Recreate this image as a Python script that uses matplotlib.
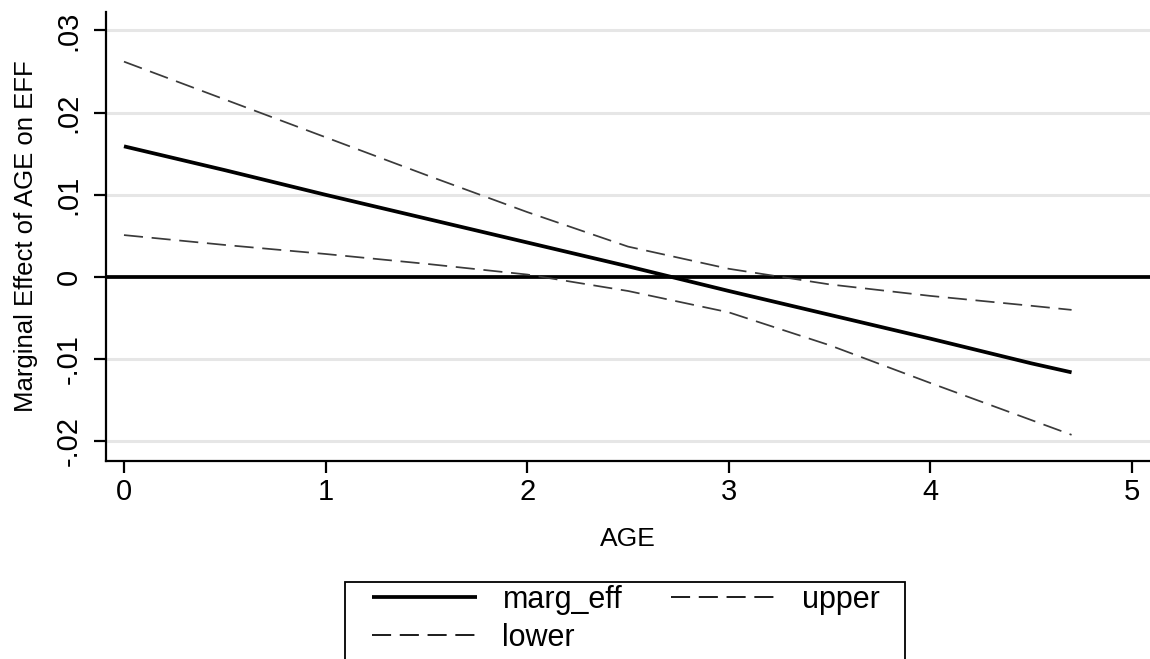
import matplotlib
matplotlib.use('Agg')
import matplotlib.pyplot as plt
from matplotlib.patches import Rectangle

plt.rcParams['font.family'] = ['Liberation Sans', 'DejaVu Sans']

# values
age = [0, 0.5, 1, 1.5, 2, 2.5, 3, 3.5, 4, 4.5, 4.7]
marg_eff = [0.0159, 0.0130, 0.0100, 0.0071, 0.0042, 0.0013, -0.0017, -0.0046, -0.0075, -0.0105, -0.0116]
upper = [0.0262, 0.0216, 0.0170, 0.0124, 0.0079, 0.0037, 0.0010, -0.0009, -0.0023, -0.0035, -0.0040]
lower = [0.0051, 0.0039, 0.0028, 0.0016, 0.0003, -0.0017, -0.0043, -0.0083, -0.0129, -0.0174, -0.0192]

yticks = [-0.02, -0.01, 0, 0.01, 0.02, 0.03]
ylabels = ['-.02', '-.01', '0', '.01', '.02', '.03']
xticks = [0, 1, 2, 3, 4, 5]

fig = plt.figure(figsize=(11.5, 6.59), dpi=100)
ax = fig.add_axes([0.0922, 0.3005, 0.9078, 0.6813])

# grid lines (light grey), zero line thick black
for y in yticks:
    if y != 0:
        ax.axhline(y, color='#e6e6e6', lw=2.2, zorder=0)
ax.axhline(0, color='black', lw=2.7, zorder=1)

l1, = ax.plot(age, marg_eff, color='black', lw=2.7, solid_capstyle='butt', label='marg_eff', zorder=3)
l2, = ax.plot(age, upper, color='#3a3a3a', lw=1.25, dashes=(11, 5), label='upper', zorder=2)
l3, = ax.plot(age, lower, color='#3a3a3a', lw=1.25, dashes=(11, 5), label='lower', zorder=2)

ax.set_xlim(-0.089, 5.089)
ax.set_ylim(-0.02238, 0.03224)

ax.set_xticks(xticks)
ax.set_xticklabels([str(x) for x in xticks])
ax.set_yticks(yticks)
ax.set_yticklabels(ylabels, rotation=90, va='center')

for s in ['top', 'right']:
    ax.spines[s].set_visible(False)
for s in ['left', 'bottom']:
    ax.spines[s].set_linewidth(1.6)
    ax.spines[s].set_color('black')

ax.tick_params(axis='both', direction='out', width=1.6, colors='black', labelsize=21)
ax.tick_params(axis='y', length=9, pad=8)
ax.tick_params(axis='x', length=8.5, pad=4)

ax.set_xlabel('AGE', fontsize=19, labelpad=15)
ax.set_ylabel('Marginal Effect of AGE on EFF', fontsize=18.5, labelpad=12)

# legend box (cut off by the bottom edge like the reference)
fig.patches.append(Rectangle((345 / 1150, -0.05), (905 - 345) / 1150, 0.05 + 1 - 582 / 659,
                             transform=fig.transFigure, fill=False, edgecolor='black',
                             lw=1.3, zorder=5))
leg = fig.legend(handles=[l1, l3, l2], labels=['marg_eff', 'lower', 'upper'],
                 ncol=2, loc='upper left', bbox_to_anchor=(372 / 1150, 1 - 585 / 659),
                 fontsize=22, frameon=False, handlelength=3.45, handletextpad=0.82,
                 columnspacing=1.6, borderpad=0, borderaxespad=0, labelspacing=0.25)
for h in leg.get_lines():
    h.set_color('black')
leg.get_lines()[0].set_linewidth(2.7)

fig.savefig('out.png', dpi=100)
